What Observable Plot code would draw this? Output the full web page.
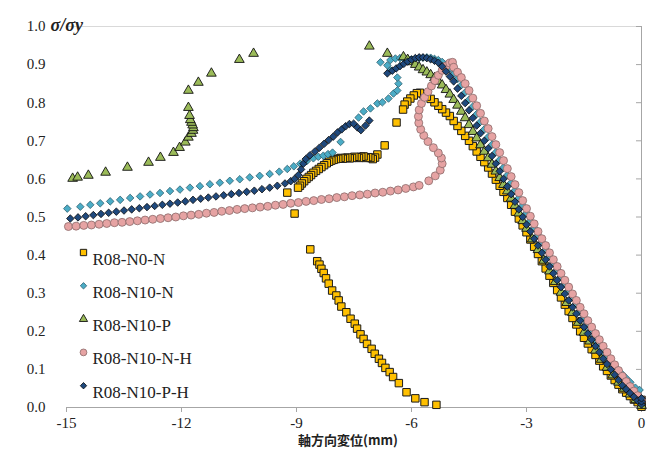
<!DOCTYPE html>
<html><head><meta charset="utf-8">
<script src="https://cdn.jsdelivr.net/npm/d3@7"></script>
<script src="https://cdn.jsdelivr.net/npm/@observablehq/plot@0.6"></script>
<style>
html,body{margin:0;padding:0;background:#fff;}
#chart{width:653px;height:454px;}
</style></head><body><div id="chart"></div>
<script>
const seriesNames = ["R08-N0-N","R08-N10-N","R08-N10-P","R08-N10-N-H","R08-N10-P-H"];
const xTicks = [-15,-12,-9,-6,-3,0];
const yTicks = [0,0.1,0.2,0.3,0.4,0.5,0.6,0.7,0.8,0.9,1.0];
const xTitle = "軸方向変位(mm)";
const yTitle = "σ/σy";

// R08-N0-N  [displacement mm, σ/σy]
const n0n = [[0,0.002],[0,0.011],[0,0.02],[-0.1,0.014],[-0.2,0.021],[-0.3,0.03],[-0.4,0.039],[-0.5,0.048],[-0.6,0.06],[-0.7,0.072],[-0.8,0.084],[-0.9,0.096],[-1.0,0.108],[-1.1,0.123],[-1.2,0.138],[-1.3,0.153],[-1.4,0.168],[-1.5,0.183],[-1.6,0.2],[-1.7,0.218],[-1.8,0.235],[-1.9,0.253],[-2.0,0.27],[-2.1,0.289],[-2.2,0.308],[-2.3,0.327],[-2.4,0.346],[-2.5,0.365],[-2.6,0.384],[-2.7,0.403],[-2.8,0.422],[-2.9,0.441],[-3.0,0.46],[-3.1,0.478],[-3.2,0.496],[-3.3,0.514],[-3.4,0.532],[-3.5,0.55],[-3.6,0.566],[-3.7,0.582],[-3.8,0.598],[-3.9,0.614],[-4.0,0.63],[-4.1,0.644],[-4.2,0.658],[-4.3,0.672],[-4.4,0.686],[-4.5,0.7],[-4.6,0.713],[-4.7,0.726],[-4.8,0.739],[-4.9,0.752],[-5.0,0.765],[-5.1,0.774],[-5.2,0.783],[-5.3,0.792],[-5.4,0.801],[-5.5,0.81],[-5.6,0.816],[-5.7,0.822],[-5.78,0.826],[-5.86,0.825],[-5.94,0.819],[-6.03,0.811],[-6.11,0.803],[-6.18,0.795],[-6.22,0.782],[-6.39,0.748],[-6.7,0.688],[-6.89,0.664],
[-6.95,0.656],[-7.01,0.652],[-7.07,0.655],[-7.13,0.657],[-7.19,0.655],[-7.25,0.659],[-7.31,0.658],[-7.37,0.655],[-7.43,0.657],[-7.49,0.658],[-7.55,0.655],[-7.61,0.654],[-7.67,0.656],[-7.73,0.655],[-7.79,0.653],[-7.85,0.655],[-7.91,0.653],[-7.97,0.652],[-8.03,0.65],[-8.09,0.648],[-8.15,0.645],[-8.21,0.641],[-8.28,0.636],[-8.35,0.631],[-8.42,0.626],[-8.49,0.621],[-8.56,0.616],[-8.62,0.61],[-8.68,0.605],[-8.74,0.6],[-8.8,0.594],[-8.86,0.588],[-8.91,0.582],[-8.96,0.577],[-9.24,0.564],[-9.05,0.509],
[-8.64,0.415],[-8.46,0.384],[-8.4,0.375],[-8.35,0.364],[-8.29,0.353],[-8.23,0.339],[-8.16,0.325],[-8.07,0.307],[-7.96,0.294],[-7.9,0.281],[-7.83,0.265],[-7.7,0.25],[-7.59,0.233],[-7.48,0.22],[-7.42,0.207],[-7.33,0.192],[-7.25,0.18],[-7.16,0.167],[-7.04,0.154],[-6.96,0.141],[-6.85,0.128],[-6.77,0.117],[-6.68,0.104],[-6.57,0.093],[-6.48,0.08],[-6.33,0.064],[-6.13,0.04],[-5.9,0.024],[-5.66,0.014],[-5.35,0.007]];

// R08-N10-N
const n10n = [[-14.98,0.522],[-14.64,0.527],[-14.38,0.532],[-14.12,0.536],[-13.86,0.541],[-13.6,0.545],[-13.34,0.55],[-13.08,0.554],[-12.82,0.559],[-12.56,0.563],[-12.3,0.568],[-12.04,0.572],[-11.78,0.577],[-11.52,0.581],[-11.26,0.586],[-11.0,0.59],[-10.74,0.595],[-10.48,0.599],[-10.22,0.604],[-9.96,0.608],[-9.7,0.613],[-9.45,0.619],[-9.24,0.626],[-9.07,0.633],[-8.9,0.64],[-8.73,0.647],[-8.56,0.654],[-8.43,0.658],[-8.3,0.661],[-8.18,0.665],[-8.06,0.669],[-7.85,0.697],[-7.38,0.761],[-7.25,0.777],[-7.07,0.785],[-6.89,0.798],[-6.76,0.801],[-6.6,0.811],[-6.47,0.824],[-6.37,0.832],[-6.34,0.85],[-6.37,0.866],[-6.55,0.885],[-6.63,0.898],[-6.81,0.906],[-6.55,0.912],[-6.42,0.916],
[-6.3,0.917],[-6.2,0.916],[-6.1,0.915],[-6.0,0.914],[-5.9,0.915],[-5.8,0.917],[-5.7,0.918],[-5.6,0.919],[-5.5,0.918],[-5.4,0.915],[-5.3,0.912],[-5.2,0.907],[-5.1,0.9],[-5.0,0.888],[-4.9,0.875],[-4.8,0.862],[-4.7,0.846],[-4.6,0.827],[-4.5,0.808],[-4.4,0.79],[-4.3,0.77],[-4.2,0.75],[-4.1,0.73],[-4.0,0.71],[-3.9,0.69],[-3.8,0.67],[-3.7,0.65],[-3.6,0.63],[-3.5,0.61],[-3.4,0.59],[-3.3,0.57],[-3.2,0.55],[-3.1,0.53],[-3.0,0.51],[-2.9,0.49],[-2.8,0.471],[-2.7,0.452],[-2.6,0.434],[-2.5,0.415],[-2.4,0.397],[-2.3,0.379],[-2.2,0.361],[-2.1,0.343],[-2.0,0.325],[-1.9,0.307],[-1.8,0.29],[-1.7,0.272],[-1.6,0.25],[-1.5,0.232],[-1.4,0.212],[-1.3,0.195],[-1.2,0.175],[-1.1,0.16],[-1.0,0.146],[-0.9,0.132],[-0.8,0.12],[-0.7,0.108],[-0.6,0.097],[-0.5,0.087],[-0.4,0.077],[-0.29,0.066],[-0.16,0.052],[-0.05,0.046]];

// R08-N10-P
const n10p = [[-14.84,0.601],[-14.71,0.604],[-14.43,0.609],[-13.98,0.617],[-13.41,0.63],[-12.86,0.643],[-12.55,0.656],[-12.21,0.669],[-12.05,0.682],[-11.9,0.696],[-11.82,0.709],[-11.74,0.719],[-11.7,0.727],[-11.69,0.734],[-11.71,0.741],[-11.74,0.748],[-11.77,0.755],[-11.79,0.766],[-11.82,0.787],[-11.82,0.832],[-11.56,0.853],[-11.22,0.877],[-10.49,0.913],[-10.12,0.929],[-7.1,0.948],[-6.63,0.929],[-6.21,0.92],
[-6.1,0.913],[-6.0,0.907],[-5.9,0.9],[-5.8,0.893],[-5.7,0.886],[-5.6,0.88],[-5.5,0.873],[-5.4,0.865],[-5.3,0.856],[-5.2,0.846],[-5.1,0.834],[-5.0,0.822],[-4.9,0.808],[-4.8,0.793],[-4.7,0.777],[-4.6,0.76],[-4.5,0.742],[-4.4,0.724],[-4.3,0.707],[-4.2,0.689],[-4.1,0.672],[-4.0,0.655],[-3.9,0.638],[-3.8,0.62],[-3.7,0.603],[-3.6,0.585],[-3.5,0.568],[-3.4,0.549],[-3.3,0.53],[-3.2,0.51],[-3.1,0.49],[-3.0,0.47],[-2.85,0.442],[-2.7,0.414],[-2.55,0.386],[-2.4,0.358],[-2.25,0.33],[-2.1,0.302],[-1.95,0.275],[-1.8,0.249],[-1.65,0.223],[-1.5,0.197],[-1.35,0.174],[-1.2,0.15],[-1.05,0.126],[-0.9,0.105],[-0.75,0.085],[-0.6,0.066],[-0.45,0.05],[-0.3,0.035],[-0.15,0.02],[0,0.005]];

// R08-N10-N-H
const n10nh = [[-14.95,0.475],[-14.75,0.476],[-14.55,0.478],[-14.35,0.479],[-14.15,0.481],[-13.95,0.483],[-13.75,0.485],[-13.55,0.486],[-13.35,0.488],[-13.15,0.49],[-12.95,0.492],[-12.75,0.494],[-12.55,0.496],[-12.35,0.498],[-12.15,0.5],[-11.95,0.503],[-11.75,0.505],[-11.55,0.507],[-11.35,0.51],[-11.15,0.512],[-10.95,0.515],[-10.75,0.517],[-10.55,0.52],[-10.35,0.522],[-10.15,0.524],[-9.95,0.526],[-9.75,0.528],[-9.55,0.531],[-9.35,0.533],[-9.15,0.536],[-8.95,0.538],[-8.75,0.541],[-8.55,0.543],[-8.35,0.546],[-8.15,0.548],[-7.95,0.551],[-7.75,0.553],[-7.55,0.556],[-7.35,0.558],[-7.15,0.56],[-6.95,0.563],[-6.75,0.565],[-6.55,0.568],[-6.35,0.571],[-6.15,0.575],[-5.95,0.579],
[-5.8,0.583],[-5.55,0.595],[-5.38,0.608],[-5.25,0.623],[-5.2,0.64],[-5.22,0.655],[-5.3,0.668],[-5.43,0.682],[-5.57,0.698],[-5.68,0.714],[-5.76,0.73],[-5.81,0.747],[-5.82,0.764],[-5.8,0.781],[-5.74,0.798],[-5.66,0.814],[-5.57,0.829],[-5.48,0.844],[-5.39,0.858],[-5.3,0.872],[-5.2,0.885],[-5.1,0.896],[-5.0,0.904],[-4.93,0.906],
[-4.9,0.893],[-4.8,0.88],[-4.7,0.866],[-4.6,0.85],[-4.5,0.832],[-4.4,0.812],[-4.3,0.792],[-4.2,0.772],[-4.1,0.752],[-4.0,0.732],[-3.9,0.711],[-3.8,0.69],[-3.7,0.669],[-3.6,0.648],[-3.5,0.627],[-3.4,0.606],[-3.3,0.585],[-3.2,0.564],[-3.1,0.543],[-3.0,0.522],[-2.9,0.502],[-2.8,0.482],[-2.7,0.462],[-2.6,0.443],[-2.5,0.425],[-2.4,0.406],[-2.3,0.388],[-2.2,0.37],[-2.1,0.352],[-2.0,0.334],[-1.9,0.316],[-1.8,0.298],[-1.7,0.281],[-1.6,0.263],[-1.5,0.246],[-1.4,0.228],[-1.3,0.211],[-1.2,0.194],[-1.1,0.178],[-1.0,0.161],[-0.9,0.145],[-0.8,0.128],[-0.7,0.112],[-0.6,0.097],[-0.5,0.082],[-0.4,0.068],[-0.3,0.055],[-0.2,0.043],[-0.1,0.031],[0,0.02]];

// R08-N10-P-H
const n10ph = [[-14.9,0.496],[-14.7,0.499],[-14.5,0.502],[-14.3,0.505],[-14.1,0.508],[-13.9,0.511],[-13.7,0.514],[-13.5,0.517],[-13.3,0.52],[-13.1,0.523],[-12.9,0.526],[-12.7,0.529],[-12.5,0.532],[-12.3,0.535],[-12.1,0.538],[-11.9,0.541],[-11.7,0.545],[-11.5,0.548],[-11.3,0.551],[-11.1,0.554],[-10.9,0.557],[-10.7,0.56],[-10.5,0.563],[-10.3,0.566],[-10.1,0.569],[-9.9,0.573],[-9.7,0.577],[-9.5,0.582],[-9.3,0.588],[-9.15,0.594],[-9.05,0.6],[-8.95,0.61],[-8.88,0.625],[-8.82,0.64],[-8.76,0.652],[-8.65,0.662],[-8.52,0.672],[-8.4,0.682],[-8.28,0.692],[-8.16,0.702],[-8.04,0.711],[-7.93,0.722],[-7.82,0.73],[-7.72,0.738],[-7.62,0.744],[-7.51,0.745],[-7.41,0.735],[-7.32,0.728],[-7.2,0.74],[-7.1,0.753],
[-6.63,0.877],[-6.5,0.884],[-6.4,0.89],[-6.3,0.896],[-6.2,0.902],[-6.1,0.908],[-6.0,0.913],[-5.9,0.917],[-5.8,0.919],[-5.7,0.919],[-5.6,0.917],[-5.5,0.914],[-5.4,0.91],[-5.3,0.905],[-5.2,0.895],[-5.1,0.882],[-5.0,0.869],[-4.9,0.856],[-4.8,0.837],[-4.7,0.818],[-4.6,0.799],[-4.5,0.78],[-4.4,0.76],[-4.3,0.74],[-4.2,0.72],[-4.1,0.7],[-4.0,0.68],[-3.9,0.66],[-3.8,0.64],[-3.7,0.62],[-3.6,0.6],[-3.5,0.58],[-3.4,0.56],[-3.3,0.54],[-3.2,0.52],[-3.1,0.5],[-3.0,0.48],[-2.9,0.462],[-2.8,0.443],[-2.7,0.425],[-2.6,0.406],[-2.5,0.388],[-2.4,0.37],[-2.3,0.352],[-2.2,0.334],[-2.1,0.316],[-2.0,0.298],[-1.9,0.281],[-1.8,0.263],[-1.7,0.246],[-1.6,0.228],[-1.5,0.211],[-1.4,0.194],[-1.3,0.178],[-1.2,0.161],[-1.1,0.145],[-1.0,0.128],[-0.9,0.114],[-0.8,0.1],[-0.7,0.086],[-0.6,0.072],[-0.5,0.058],[-0.4,0.048],[-0.3,0.038],[-0.2,0.028],[-0.1,0.018],[0,0.008],[0,0.016],[0,0.024]];

const seriesData = [n0n, n10n, n10p, n10nh, n10ph];
const styles = [
  {symbol:"square",   fill:"#FFC000", stroke:"#1a1a1a", r:4.2, sw:1},
  {symbol:"diamond2", fill:"#4BACC6", stroke:"#2f5f6e", r:3.4, sw:0.8},
  {symbol:"triangle", fill:"#9BBB59", stroke:"#111111", r:3.6, sw:0.9},
  {symbol:"circle",   fill:"#E6A3A3", stroke:"#8a6a6a", r:4.0, sw:0.8},
  {symbol:"diamond2", fill:"#1F497D", stroke:"#0b0b0b", r:3.4, sw:0.8}
];

const serif = "'Liberation Serif','Times New Roman',serif";
const marks = [
  Plot.ruleY([1], {stroke:"#d9d9d9"}),
  Plot.ruleY([0], {stroke:"#a6a6a6"}),
  Plot.ruleX([0], {stroke:"#a6a6a6"}),
  Plot.ruleY(yTicks, {y: d => d, x1: 0, x2: 0, insetLeft: -5, stroke:"#a6a6a6"}),
  Plot.axisX({ticks: xTicks, tickSize: 5, tickPadding: 5, stroke:"#a6a6a6", fill:"#222", label: null, tickFormat: d => String(d)}),
  Plot.axisY({ticks: yTicks, tickSize: 0, tickPadding: 21, fill:"#222", label: null, tickFormat: d3.format(".1f")})
];
seriesData.forEach((data, i) => {
  const s = styles[i];
  marks.push(Plot.dot(data, {x: d => d[0], y: d => d[1], symbol: s.symbol, r: s.r, fill: s.fill, stroke: s.stroke, strokeWidth: s.sw}));
});
seriesNames.forEach((name, i) => {
  const s = styles[i];
  const dy = 226 + i * 33.3;
  marks.push(Plot.dot([name], {frameAnchor: "top-left", dx: 17, dy, symbol: s.symbol, r: s.r * 0.85, fill: s.fill, stroke: s.stroke, strokeWidth: s.sw}));
  marks.push(Plot.text([name], {text: d => d, frameAnchor: "top-left", dx: 26, dy, textAnchor: "start", fontSize: 17, fill: "#222", fontFamily: serif}));
});
marks.push(Plot.text([yTitle], {text: d => d, frameAnchor: "top-left", dx: -16, dy: -8, textAnchor: "start", fontSize: 18, fontWeight: "bold", fontStyle: "italic", fill: "#222", fontFamily: serif}));
marks.push(Plot.text([xTitle], {text: d => d, frameAnchor: "bottom", dx: -6, dy: 37, fontSize: 13, fontWeight: "bold", fill: "#222", fontFamily: "'Noto Sans CJK JP', sans-serif"}));

const chart = Plot.plot({
  width: 653, height: 454,
  marginLeft: 66, marginRight: 12, marginTop: 26, marginBottom: 47,
  x: {domain: [-15, 0]},
  y: {domain: [0, 1]},
  style: {fontFamily: serif, fontSize: "15px", background: "#fff"},
  marks
});
document.getElementById("chart").appendChild(chart);
</script></body></html>
